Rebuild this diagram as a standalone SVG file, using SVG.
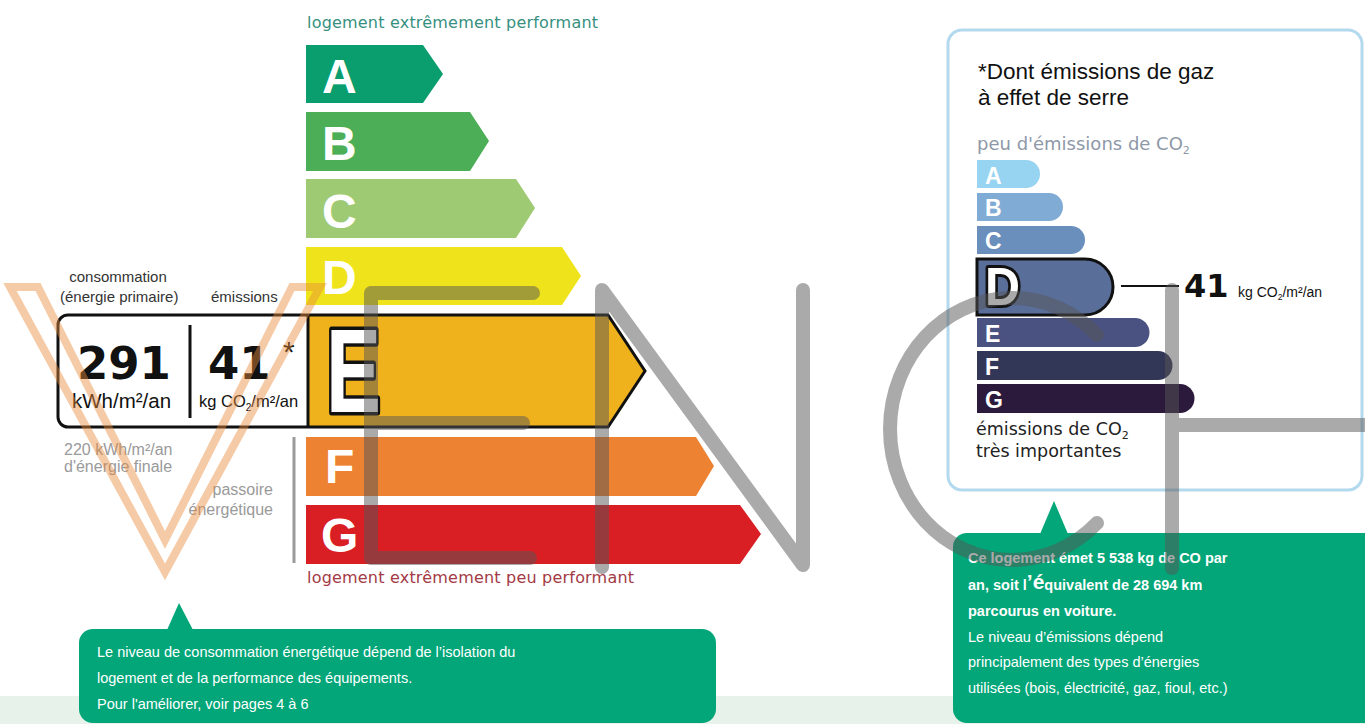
<svg xmlns="http://www.w3.org/2000/svg" width="1365" height="724" viewBox="0 0 1365 724">
<style>
.sans{font-family:"Liberation Sans",Arial,sans-serif}
.dv{font-family:"DejaVu Sans",Verdana,sans-serif}
.barL{font-family:"Liberation Sans",Arial,sans-serif;font-weight:bold;font-size:48px;fill:#fff}
.barR{font-family:"Liberation Sans",Arial,sans-serif;font-weight:bold;font-size:23px;fill:#fff}
.big{font-family:"DejaVu Sans",Verdana,sans-serif;font-weight:bold;fill:#111}
.gray{fill:#9a9a9a}
.cw{font-family:"Liberation Sans",Arial,sans-serif;font-size:14.5px;fill:#fff}
.cb{font-weight:bold}
.wm{fill:none;stroke:#555;stroke-opacity:0.5;stroke-width:14;stroke-linecap:round;stroke-linejoin:round}
.wv{fill:none;stroke:#e8893a;stroke-opacity:0.45;stroke-width:8;stroke-linejoin:miter}
</style>
<rect width="1365" height="724" fill="#fff"/>
<rect id="band" x="0" y="696" width="1365" height="28" fill="#e6f2ea"/>

<g id="dpe-left">
  <text class="dv" x="307" y="28" font-size="16" letter-spacing="0.2" fill="#36907f">logement extrêmement performant</text>
  <g id="barA"><polygon points="306,45 423,45 443,74 423,103 306,103" fill="#0a9d6d"/><text class="barL" x="322" y="93">A</text></g>
  <g id="barB"><polygon points="306,112 470,112 489,141 470,171 306,171" fill="#4cae56"/><text class="barL" x="322" y="160">B</text></g>
  <g id="barC"><polygon points="306,179 516,179 535,208 516,238 306,238" fill="#9fca74"/><text class="barL" x="322" y="228">C</text></g>
  <g id="barD"><polygon points="306,247 562,247 581,276 562,305 306,305" fill="#efe31b"/><text class="barL" x="322" y="294">D</text></g>
  <g id="barE">
    <rect x="58" y="315" width="250" height="112" fill="#fff"/>
    <polygon points="308,315 608,315 645,371 608,427 308,427" fill="#f0b21c"/>
    <path d="M68,315 H608 L645,371 L608,427 H68 A10,10 0 0 1 58,417 V325 A10,10 0 0 1 68,315 Z" fill="none" stroke="#111" stroke-width="3"/>
    <line x1="308" y1="315" x2="308" y2="427" stroke="#111" stroke-width="3"/>
    <text x="326" y="412" font-family="Liberation Sans,Arial,sans-serif" font-weight="bold" font-size="118" textLength="55" lengthAdjust="spacingAndGlyphs" fill="#fff" stroke="#111" stroke-width="7" paint-order="stroke" stroke-linejoin="round">E</text>
  </g>
  <g id="barF"><polygon points="306,437 696,437 714,466 696,496 306,496" fill="#ec8232"/><text class="barL" x="325" y="483">F</text></g>
  <g id="barG"><polygon points="306,505 740,505 761,534 740,564 306,564" fill="#d91e24"/><text class="barL" x="321" y="552">G</text></g>
  <text class="dv" x="307" y="583" font-size="16" letter-spacing="0.2" fill="#a33a45">logement extrêmement peu performant</text>
</g>

<g id="values">
  <text class="sans" x="118" y="282" font-size="15" fill="#333" text-anchor="middle">consommation</text>
  <text class="sans" x="60" y="302" font-size="15" fill="#333">(énergie primaire)</text>
  <text class="sans" x="211" y="302" font-size="15" fill="#333">émissions</text>
  <text class="big" x="77" y="379" font-size="45">291</text>
  <line x1="190" y1="325" x2="190" y2="418" stroke="#111" stroke-width="3"/>
  <text class="big" x="208" y="379" font-size="45">41</text>
  <text class="sans" x="283" y="362" font-size="30" fill="#111">*</text>
  <text class="sans" x="72" y="408" font-size="20.5" fill="#111">kWh/m²/an</text>
  <text class="sans" x="199" y="407" font-size="16.5" fill="#111">kg <tspan>CO</tspan><tspan font-size="10" dy="4">2</tspan><tspan dy="-4">/m²/an</tspan></text>
  <text class="sans gray" x="64" y="455" font-size="16">220 kWh/m²/an</text>
  <text class="sans gray" x="64" y="472" font-size="16">d'énergie finale</text>
  <text class="sans gray" x="273" y="495" font-size="16" text-anchor="end">passoire</text>
  <text class="sans gray" x="273" y="515" font-size="16" text-anchor="end">énergétique</text>
  <line x1="294" y1="437" x2="294" y2="563" stroke="#9a9a9a" stroke-width="3"/>
</g>

<g id="ges-panel">
  <rect x="948" y="30" width="414" height="460" rx="14" fill="#fff" stroke="#b3d9ee" stroke-width="3"/>
  <text class="sans" x="978" y="79" font-size="22.5" fill="#111">*Dont émissions de gaz</text>
  <text class="sans" x="978" y="105" font-size="22.5" fill="#111">à effet de serre</text>
  <text class="dv" x="977" y="150" font-size="18" fill="#8e98a8">peu d'émissions de CO<tspan font-size="11" dy="4">2</tspan></text>
  <g id="gesA"><path d="M977,160 H1026 A14,14 0 0 1 1026,188 H977 Z" fill="#97d4f1"/><text class="barR" x="985" y="184">A</text></g>
  <g id="gesB"><path d="M977,193 H1049 A14,14 0 0 1 1049,221 H977 Z" fill="#7fabd4"/><text class="barR" x="985" y="216">B</text></g>
  <g id="gesC"><path d="M977,226 H1071 A14,14 0 0 1 1071,254 H977 Z" fill="#6a8fbd"/><text class="barR" x="985" y="249">C</text></g>
  <g id="gesD">
    <path d="M977,259 H1085 A28,28 0 0 1 1085,315 H977 Z" fill="#5a6e9a" stroke="#111" stroke-width="3"/>
    <text x="985" y="305" font-family="Liberation Sans,Arial,sans-serif" font-weight="bold" font-size="54" textLength="35" lengthAdjust="spacingAndGlyphs" fill="#fff" stroke="#111" stroke-width="6" paint-order="stroke" stroke-linejoin="round">D</text>
  </g>
  <g id="gesE"><path d="M977,318 H1135 A14.5,14.5 0 0 1 1135,347 H977 Z" fill="#4a5281"/><text class="barR" x="985" y="342">E</text></g>
  <g id="gesF"><path d="M977,351 H1158 A14.5,14.5 0 0 1 1158,380 H977 Z" fill="#333757"/><text class="barR" x="985" y="375">F</text></g>
  <g id="gesG"><path d="M977,384 H1180 A14.5,14.5 0 0 1 1180,413 H977 Z" fill="#2b1a3c"/><text class="barR" x="985" y="408">G</text></g>
  <text class="dv" x="976" y="435" font-size="17.5" fill="#222">émissions de CO<tspan font-size="11" dy="4">2</tspan></text>
  <text class="dv" x="976" y="457" font-size="17.5" fill="#222">très importantes</text>
</g>

<g id="connectors">
  <line x1="1121" y1="286" x2="1179" y2="286" stroke="#111" stroke-width="2"/>
</g>

<g id="ges-value">
  <text class="big" x="1184" y="297" font-size="32">41</text>
  <text class="sans" x="1238" y="297" font-size="14" fill="#111">kg CO<tspan font-size="8.5" dy="3">2</tspan><tspan dy="-3">/m²/an</tspan></text>
</g>

<g id="callout-left">
  <path d="M167,630 L179,603 L193,630 Z" fill="#02a678"/>
  <rect x="79" y="629" width="637" height="94" rx="14" fill="#02a678"/>
  <text class="cw" x="97" y="657">Le niveau de consommation énergétique dépend de l’isolation du</text>
  <text class="cw" x="97" y="683">logement et de la performance des équipements.</text>
  <text class="cw" x="97" y="709">Pour l'améliorer, voir pages 4 à 6</text>
</g>

<g id="callout-right">
  <path d="M1040,534 L1054,501 L1068,534 Z" fill="#02a678"/>
  <rect x="953" y="533" width="430" height="190" rx="14" fill="#02a678"/>
  <text class="cw cb" x="968" y="563">Ce logement émet 5 538 kg de CO  par</text>
  <text class="cw cb" x="968" y="590">an, soit l<tspan font-size="21" dy="-1">’é</tspan><tspan dy="1">quivalent de 28 694 km</tspan></text>
  <text class="cw cb" x="968" y="616">parcourus en voiture.</text>
  <text class="cw" x="968" y="642">Le niveau d’émissions dépend</text>
  <text class="cw" x="968" y="667">principalement des types d’énergies</text>
  <text class="cw" x="968" y="693">utilisées (bois, électricité, gaz, fioul, etc.)</text>
</g>

<g id="watermark">
  <polygon class="wv" points="10,287 38,287 165,540 292,287 320,287 165,572"/>
  <path class="wm" d="M533,293 H371 V558 H530 M371,423 H523"/>
  <path class="wm" d="M602,567 V290 L803,565 V290"/>
  <path class="wm" d="M1097,335 A122,131 0 1 0 1097,523"/>
  <path class="wm" d="M1172,290 V568 M1172,425 H1372"/>
</g>
</svg>
